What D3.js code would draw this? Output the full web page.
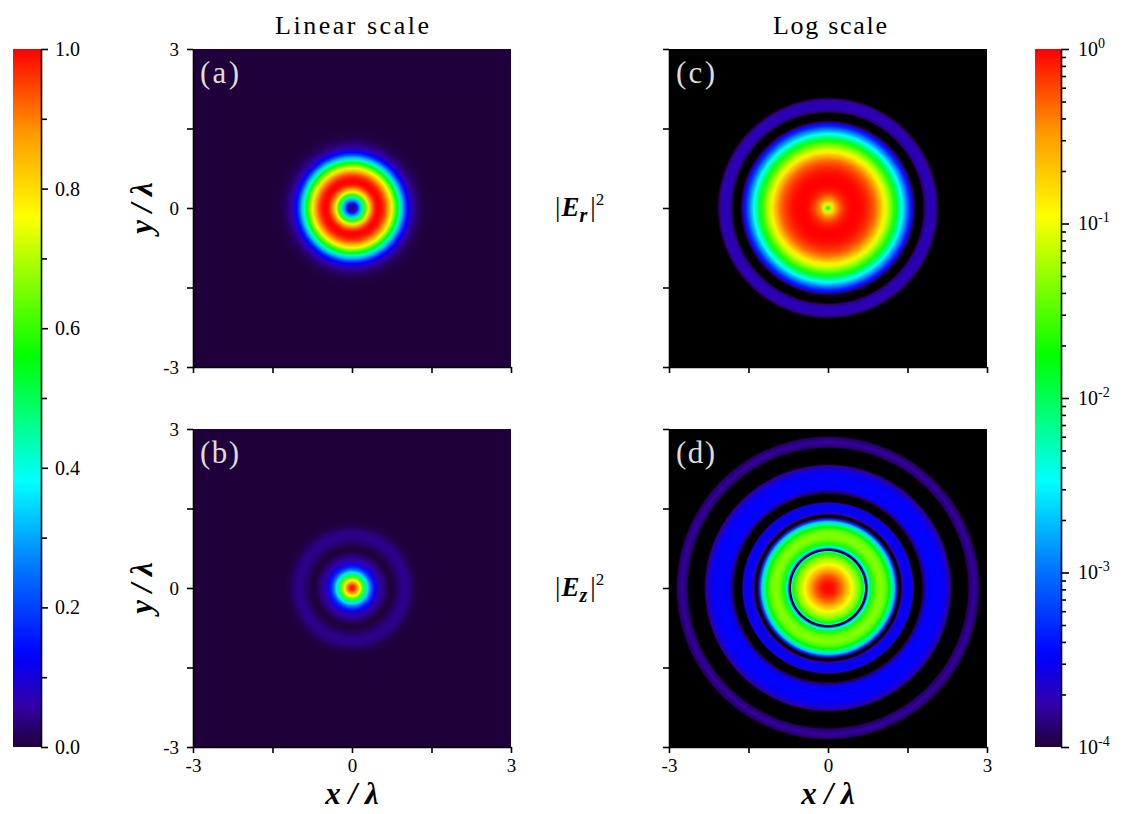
<!DOCTYPE html>
<html>
<head>
<meta charset="utf-8">
<script src="https://cdn.jsdelivr.net/npm/d3@7"></script>
<style>
  body { margin: 0; background: #fff; }
  svg text { font-family: "Liberation Serif", "Times New Roman", serif !important; fill: #000; }
</style>
</head>
<body>
<svg id="fig" width="1123" height="814"></svg>
<script>
// Radial intensity profiles, normalised to the peak, radius in units of λ
const erRadius = [0, 0.03, 0.06, 0.1, 0.15, 0.2, 0.25, 0.3, 0.35, 0.4, 0.45, 0.5, 0.55, 0.6, 0.65, 0.7, 0.75, 0.8, 0.85, 0.9, 0.95, 1.0, 1.05, 1.1, 1.15, 1.2, 1.25, 1.3, 1.35, 1.4, 1.45, 1.5, 1.55, 1.6, 1.63, 1.66, 1.72, 1.79, 1.82, 1.88, 1.95, 2.02, 2.06, 2.09, 2.2, 2.5, 3.0, 4.3];
const erIntensity = [0.012, 0.03, 0.08, 0.16, 0.30, 0.45, 0.60, 0.74, 0.86, 0.94, 0.99, 1.0, 0.99, 0.96, 0.91, 0.84, 0.75, 0.65, 0.55, 0.44, 0.32, 0.21, 0.13, 0.085, 0.057, 0.036, 0.022, 0.012, 0.0065, 0.0033, 0.0017, 0.0009, 0.00045, 0.00022, 0.00011, 0.00004, 0.00002, 0.00005, 0.00013, 0.00019, 0.0002, 0.00017, 0.00012, 0.00005, 0.00002, 0.00001, 0.00001, 0.00001];

const ezRadius = [0, 0.05, 0.1, 0.15, 0.2, 0.25, 0.3, 0.35, 0.4, 0.45, 0.5, 0.55, 0.6, 0.65, 0.68, 0.69, 0.70, 0.708, 0.732, 0.74, 0.75, 0.77, 0.8, 0.85, 0.9, 0.95, 1.0, 1.05, 1.1, 1.15, 1.2, 1.25, 1.28, 1.31, 1.34, 1.37, 1.4, 1.45, 1.55, 1.6, 1.63, 1.66, 1.76, 1.8, 1.86, 2.0, 2.2, 2.3, 2.34, 2.63, 2.66, 2.75, 2.84, 2.87, 3.0, 4.3];
const ezIntensity = [1.0, 0.96, 0.88, 0.76, 0.62, 0.48, 0.35, 0.24, 0.16, 0.105, 0.072, 0.052, 0.036, 0.019, 0.008, 0.003, 0.0006, 0.00003, 0.00003, 0.0004, 0.0012, 0.004, 0.01, 0.022, 0.033, 0.042, 0.045, 0.04, 0.03, 0.017, 0.007, 0.0022, 0.0007, 0.00018, 0.00003, 0.00003, 0.00018, 0.0003, 0.00032, 0.00022, 0.00008, 0.00003, 0.00003, 0.00012, 0.0003, 0.00034, 0.0003, 0.00016, 0.00003, 0.00003, 0.00012, 0.00017, 0.00012, 0.00003, 0.00001, 0.00001];

// Axis ticks and colour-bar labels
const axisTicks = [-3, -1.5, 0, 1.5, 3];
const axisLabelTicks = [-3, 0, 3];
const linearTicks = [0, 0.2, 0.4, 0.6, 0.8, 1.0];
const linearMinorTicks = [0.1, 0.3, 0.5, 0.7, 0.9];
const logMajorTicks = [1, 0.1, 0.01, 0.001, 0.0001];
const logMinorMantissas = [2, 3, 4, 5, 6, 7, 8, 9];
const logDecades = [-4, -3, -2, -1];

// Rainbow palette
const paletteStops = [0, 0.06, 0.13, 0.25, 0.38, 0.47, 0.56, 0.66, 0.76, 0.88, 1];
const paletteColors = ["#20003a", "#3300a8", "#0000ff", "#0070ff", "#00ffff", "#00ff80", "#00ff00", "#80ff00", "#ffff00", "#ff9900", "#ff0000"];

const svg = d3.select("#fig");
const defs = svg.append("defs");

const palette = d3.scaleLinear().domain(paletteStops).range(paletteColors)
  .interpolate(d3.interpolateRgb).clamp(true);
const logNorm = d3.scaleLog().domain([1e-4, 1]).range([0, 1]);
const linearColor = v => palette(v);
const logColor = v => (v < 1e-4 ? "#000000" : palette(logNorm(v)));

// Layout of the 2x2 grid
const colX = [193, 669];
const rowY = [49, 429];
const size = 318;
const rMax = 4.3;

const panels = [
  { key: "a", col: 0, row: 0, radius: erRadius, values: erIntensity, color: linearColor },
  { key: "b", col: 0, row: 1, radius: ezRadius, values: ezIntensity, color: linearColor },
  { key: "c", col: 1, row: 0, radius: erRadius, values: erIntensity, color: logColor },
  { key: "d", col: 1, row: 1, radius: ezRadius, values: ezIntensity, color: logColor }
];

panels.forEach(p => {
  const x0 = colX[p.col], y0 = rowY[p.row];
  const x = d3.scaleLinear().domain([-3, 3]).range([x0, x0 + size]);
  const y = d3.scaleLinear().domain([-3, 3]).range([y0 + size, y0]);
  const g = svg.append("g");

  defs.append("clipPath").attr("id", "clip-" + p.key)
    .append("rect").attr("x", x0).attr("y", y0).attr("width", size).attr("height", size);

  const grad = defs.append("radialGradient").attr("id", "field-" + p.key)
    .attr("gradientUnits", "userSpaceOnUse")
    .attr("cx", x(0)).attr("cy", y(0)).attr("r", x(rMax) - x(0));
  grad.selectAll("stop").data(d3.zip(p.radius, p.values)).join("stop")
    .attr("offset", d => d[0] / rMax)
    .attr("stop-color", d => p.color(d[1]));

  const plot = g.append("g").attr("clip-path", `url(#clip-${p.key})`);
  plot.append("rect").attr("x", x0).attr("y", y0).attr("width", size).attr("height", size)
    .attr("fill", p.color(p.values[p.values.length - 1]));
  plot.append("circle").attr("cx", x(0)).attr("cy", y(0)).attr("r", x(rMax) - x(0))
    .attr("fill", `url(#field-${p.key})`);

  // panel letter
  g.append("text").attr("x", x0 + 7).attr("y", y0 + 34)
    .attr("font-size", 31).attr("textLength", 39).attr("lengthAdjust", "spacing")
    .style("fill", "#dcdcdc").text(`(${p.key})`);

  const showY = p.col === 0, showX = p.row === 1;
  const yAxis = d3.axisLeft(y).tickValues(axisTicks).tickSize(6).tickSizeOuter(0).tickPadding(8)
    .tickFormat(d => (showY && axisLabelTicks.includes(d) ? String(d) : ""));
  const xAxis = d3.axisBottom(x).tickValues(axisTicks).tickSize(6).tickSizeOuter(0).tickPadding(6)
    .tickFormat(d => (showX && axisLabelTicks.includes(d) ? String(d) : ""));
  const ga = g.append("g").attr("transform", `translate(${x0},0)`).call(yAxis);
  const gb = g.append("g").attr("transform", `translate(0,${y0 + size})`).call(xAxis);
  [ga, gb].forEach(a => {
    a.attr("font-family", null);
    a.selectAll("path, line").attr("stroke", "#000").attr("stroke-width", 1.6);
    a.selectAll("text").attr("font-size", 19);
  });
});

// Axis titles
[208, 588].forEach(cy => {
  svg.append("text").attr("transform", `translate(152,${cy}) rotate(-90)`)
    .attr("text-anchor", "middle").attr("font-size", 31)
    .attr("font-weight", "bold").attr("font-style", "italic").text("y / λ");
});
[352, 828].forEach(cx => {
  svg.append("text").attr("x", cx).attr("y", 804).attr("text-anchor", "middle")
    .attr("font-size", 31).attr("font-weight", "bold").attr("font-style", "italic").text("x / λ");
});

// Column titles
svg.append("text").attr("x", 275).attr("y", 34).attr("font-size", 26)
  .attr("textLength", 154).attr("lengthAdjust", "spacing").text("Linear scale");
svg.append("text").attr("x", 773).attr("y", 34).attr("font-size", 26)
  .attr("textLength", 114).attr("lengthAdjust", "spacing").text("Log scale");

// Row labels |E_r|^2 and |E_z|^2
[["r", 216], ["z", 596]].forEach(([sub, by]) => {
  const t = svg.append("text").attr("x", 555).attr("y", by).attr("font-size", 27);
  t.append("tspan").text("|");
  t.append("tspan").attr("font-weight", "bold").attr("font-style", "italic").attr("dx", 1).text("E");
  t.append("tspan").attr("font-weight", "bold").attr("font-style", "italic")
    .attr("font-size", 20).attr("dy", 6).text(sub);
  t.append("tspan").attr("dy", -6).attr("dx", 3).text("|");
  t.append("tspan").attr("font-size", 17).attr("dy", -11).text("2");
});

// Colour bars
const barTop = 49, barBottom = 747;
const barGrad = defs.append("linearGradient").attr("id", "bar-grad")
  .attr("x1", 0).attr("y1", 1).attr("x2", 0).attr("y2", 0);
barGrad.selectAll("stop").data(d3.range(0, 1.0001, 0.02)).join("stop")
  .attr("offset", d => d).attr("stop-color", d => palette(d));

// linear bar
const linScale = d3.scaleLinear().domain([0, 1]).range([barBottom, barTop]);
svg.append("rect").attr("x", 13).attr("y", barTop).attr("width", 28)
  .attr("height", barBottom - barTop).attr("fill", "url(#bar-grad)");
const linAxis = svg.append("g").attr("transform", "translate(41,0)")
  .call(d3.axisRight(linScale).tickValues(linearTicks).tickSize(7).tickSizeOuter(0)
    .tickPadding(7).tickFormat(d3.format(".1f")));
svg.append("g").attr("transform", "translate(41,0)")
  .call(d3.axisRight(linScale).tickValues(linearMinorTicks).tickSize(6).tickFormat(""))
  .select(".domain").remove();

// logarithmic bar
const logScale = d3.scaleLog().domain([1e-4, 1]).range([barBottom, barTop]);
const logMinor = [];
logDecades.forEach(e => logMinorMantissas.forEach(m => logMinor.push(m * Math.pow(10, e))));
svg.append("rect").attr("x", 1035).attr("y", barTop).attr("width", 26)
  .attr("height", barBottom - barTop).attr("fill", "url(#bar-grad)");
const logAxis = svg.append("g").attr("transform", "translate(1061,0)")
  .call(d3.axisRight(logScale).tickValues(logMajorTicks).tickSize(8).tickSizeOuter(0)
    .tickPadding(9).tickFormat(""));
svg.append("g").attr("transform", "translate(1061,0)")
  .call(d3.axisRight(logScale).tickValues(logMinor).tickSize(5).tickFormat(""))
  .select(".domain").remove();
logAxis.selectAll(".tick text").each(function (d) {
  const t = d3.select(this);
  t.append("tspan").text("10");
  t.append("tspan").attr("font-size", 14).attr("dy", -8).text(String(Math.round(Math.log10(d))));
});

[linAxis, logAxis].forEach(a => {
  a.attr("font-family", null);
  a.selectAll("text").attr("font-size", 20);
});
svg.selectAll("g path.domain, g .tick line").attr("stroke", "#000").attr("stroke-width", 1.6);
</script>
</body>
</html>
